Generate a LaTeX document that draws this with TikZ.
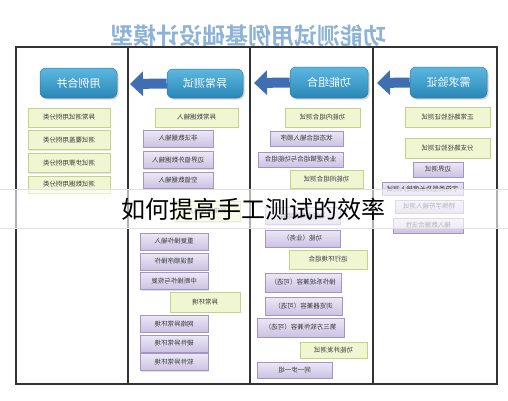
\documentclass[tikz,border=0pt]{standalone}
\usepackage{fontspec}
\newfontfamily\cjk{Noto Sans CJK SC}
\newfontfamily\cjkb{Noto Sans CJK SC Bold}
\usetikzlibrary{arrows.meta,shadows}
\newcommand{\mir}[1]{\scalebox{-1}[1]{#1}}
\definecolor{titleblue}{HTML}{8DB3D6}
\definecolor{hdtop}{HTML}{5CB8E0}
\definecolor{hdbot}{HTML}{2A86B6}
\definecolor{hddraw}{HTML}{2B7FAD}
\definecolor{gfill}{HTML}{F0F6D2}
\definecolor{gdraw}{HTML}{C3D48A}
\definecolor{ptop}{HTML}{ECE8F6}
\definecolor{pbot}{HTML}{CBC2E2}
\definecolor{pdraw}{HTML}{A396C6}
\definecolor{arrblue}{HTML}{3F6FB2}
\definecolor{boxtext}{HTML}{3A3A3A}
\begin{document}
\begin{tikzpicture}[x=1pt,y=-1pt,
  titlestyle/.style={font=\cjkb\fontsize{23}{26}\selectfont, text=titleblue, inner sep=0pt},
  hbox/.style={rounded corners=6pt, top color=hdtop, bottom color=hdbot, draw=hddraw, line width=0.5pt,
    text=white, font=\cjk\fontsize{11}{13}\selectfont, inner sep=0pt,
    drop shadow={opacity=0.35, shadow xshift=1.5pt, shadow yshift=-1.5pt}},
  gbox/.style={fill=gfill, draw=gdraw, line width=0.6pt, text=boxtext,
    font=\cjk\fontsize{6.5}{8}\selectfont, inner sep=0pt,
    drop shadow={opacity=0.2, shadow xshift=1pt, shadow yshift=-1pt}},
  pbox/.style={top color=ptop, bottom color=pbot, draw=pdraw, line width=0.6pt, text=boxtext,
    font=\cjk\fontsize{6.5}{8}\selectfont, inner sep=0pt,
    drop shadow={opacity=0.25, shadow xshift=1pt, shadow yshift=-1pt}},
  blockarrow/.style={line width=10pt, draw=arrblue, -{Triangle[length=13pt,width=24pt]}},
  framestyle/.style={draw=black!80, line width=1.1pt},
  overlaytext/.style={font=\cjk\fontsize{24}{28}\selectfont, text=black, inner sep=0pt}
]
\useasboundingbox (0,0) rectangle (508,400);
\fill[white] (0,0) rectangle (508,400);

% title
\node[titlestyle] (title) at (248,36) {\mir{功能测试用例基础设计模型}};

% frame
\draw[framestyle] (16,47) rectangle (497,384);
\coordinate (d1t) at (128,47); \coordinate (d1b) at (128,384);
\coordinate (d2t) at (250,47); \coordinate (d2b) at (250,384);
\coordinate (d3t) at (373,47); \coordinate (d3b) at (373,384);
\draw[framestyle] (d1t) -- (d1b);
\draw[framestyle] (d2t) -- (d2b);
\draw[framestyle] (d3t) -- (d3b);

% headers
\node[hbox, minimum width=77pt, minimum height=30pt] (h1) at (78.5,83) {\mir{用例合并}};
\node[hbox, minimum width=76pt, minimum height=29pt] (h2) at (205,83.5) {\mir{异常测试}};
\node[hbox, minimum width=78pt, minimum height=31pt] (h3) at (329,82.5) {\mir{功能组合}};
\node[hbox, minimum width=77pt, minimum height=31pt] (h4) at (448.5,82.5) {\mir{需求验证}};

% arrows
\coordinate (a2) at (130,84);
\coordinate (a3) at (254,83);
\coordinate (a4) at (377,83);
\draw[blockarrow] (h2.west) -- (a2);
\draw[blockarrow] (h3.west) -- (a3);
\draw[blockarrow] (h4.west) -- (a4);

% column 1
\node[gbox, minimum width=82pt, minimum height=19pt] (c1a) at (69,117.5) {\mir{异常测试用例分类}};
\node[gbox, minimum width=82pt, minimum height=19pt] (c1b) at (69,140) {\mir{测试覆盖用例分类}};
\node[gbox, minimum width=82pt, minimum height=19pt] (c1c) at (69,163) {\mir{测试步骤用例分类}};
\node[gbox, minimum width=82pt, minimum height=17pt] (c1d) at (69,184.5) {\mir{测试数据用例分类}};

% column 2
\node[gbox, minimum width=83pt, minimum height=19pt] (c2a) at (196.5,117.5) {\mir{异常数据输入}};
\node[pbox, minimum width=70pt, minimum height=17pt] (c2b) at (178,138.5) {\mir{非法数据输入}};
\node[pbox, minimum width=70pt, minimum height=17pt] (c2c) at (178,160) {\mir{边界值外数据输入}};
\node[pbox, minimum width=70pt, minimum height=16pt] (c2d) at (178,180) {\mir{空值数据输入}};
\node[gbox, minimum width=66pt, minimum height=20pt] (c2e) at (207,211.5) {\mir{异常操作输入}};
\node[pbox, minimum width=68pt, minimum height=17pt] (c2f) at (174,241.5) {\mir{重复操作输入}};
\node[pbox, minimum width=68pt, minimum height=17pt] (c2g) at (174,261.5) {\mir{错误顺序操作}};
\node[pbox, minimum width=68pt, minimum height=17pt] (c2h) at (174,281) {\mir{中断操作与恢复}};
\node[gbox, minimum width=70pt, minimum height=20pt] (c2i) at (205,302) {\mir{异常环境}};
\node[pbox, minimum width=68pt, minimum height=17pt] (c2j) at (174,323.5) {\mir{网络异常环境}};
\node[pbox, minimum width=68pt, minimum height=17pt] (c2k) at (174,343.5) {\mir{硬件异常环境}};
\node[pbox, minimum width=68pt, minimum height=17pt] (c2l) at (174,362) {\mir{软件异常环境}};

% column 3
\node[gbox, minimum width=75pt, minimum height=19pt] (c3a) at (322.5,117.5) {\mir{功能内组合测试}};
\node[pbox, minimum width=73pt, minimum height=15pt] (c3b) at (306.5,138.5) {\mir{状态组合输入顺序}};
\node[pbox, minimum width=85pt, minimum height=15pt] (c3c) at (300.5,159.5) {\mir{业务逻辑组合与功能组合}};
\node[gbox, minimum width=73pt, minimum height=18pt] (c3d) at (326.5,179) {\mir{功能间组合测试}};
\node[pbox, minimum width=75pt, minimum height=17pt] (c3e) at (302.5,216) {\mir{功能间数据组合}};
\node[pbox, minimum width=75pt, minimum height=17pt] (c3f) at (302.5,238.5) {\mir{功能（业务）}};
\node[gbox, minimum width=78pt, minimum height=19pt] (c3g) at (328,259.5) {\mir{运行环境组合}};
\node[pbox, minimum width=76pt, minimum height=19pt] (c3h) at (303,282.5) {\mir{操作系统兼容（可选）}};
\node[pbox, minimum width=77pt, minimum height=18pt] (c3i) at (303.5,306) {\mir{浏览器兼容（可选）}};
\node[pbox, minimum width=87pt, minimum height=19pt] (c3j) at (300.5,327.5) {\mir{第三方软件兼容（可选）}};
\node[gbox, minimum width=67pt, minimum height=16pt] (c3k) at (333.5,350) {\mir{功能并发测试}};
\node[pbox, minimum width=75pt, minimum height=16pt] (c3l) at (294.5,370) {\mir{同一步一组}};

% column 4
\node[gbox, minimum width=85pt, minimum height=20pt] (c4a) at (447.5,117) {\mir{正常路径验证测试}};
\node[gbox, minimum width=85pt, minimum height=20pt] (c4b) at (447.5,148) {\mir{分支路径验证测试}};
\node[pbox, minimum width=50pt, minimum height=15pt] (c4c) at (438,169.5) {\mir{边界测试}};
\node[pbox, minimum width=81pt, minimum height=13pt] (c4d) at (422.5,188.5) {\mir{字符类型及长度输入测试}};
\node[pbox, minimum width=68pt, minimum height=13pt] (c4e) at (429,206.5) {\mir{特殊字符输入测试}};
\node[pbox, minimum width=70pt, minimum height=15pt] (c4f) at (428,225.5) {\mir{输入数据合法性}};

% overlay band and text
\fill[white, opacity=0.62] (0,189) rectangle (508,228);
\draw[black!12, line width=0.6pt] (0,189) -- (508,189);
\draw[black!12, line width=0.6pt] (0,228) -- (508,228);
\node[overlaytext] (overlay) at (253,209) {如何提高手工测试的效率};
\end{tikzpicture}
\end{document}
